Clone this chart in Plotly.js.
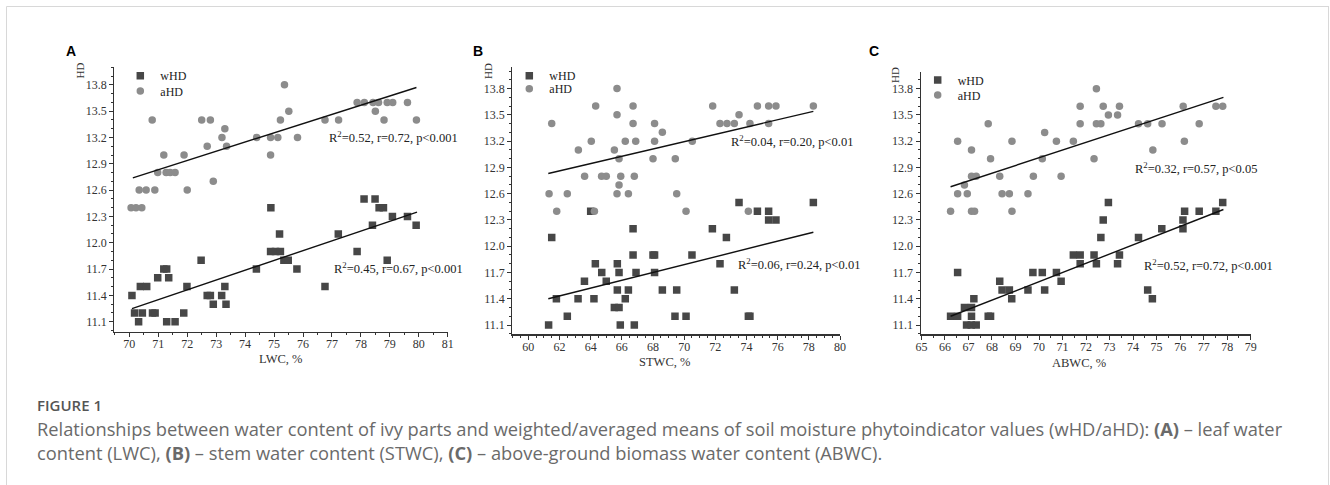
<!DOCTYPE html>
<html>
<head>
<meta charset="utf-8">
<script src="https://cdn.plot.ly/plotly-3.0.1.min.js"></script>
<style>
html,body{margin:0;padding:0;background:#fff;}
#chart{width:1330px;height:485px;}
</style>
</head>
<body>
<div id="chart"></div>
<script>
// ---------- DATA ----------
// Panel A: LWC, %
const lwc_aHD_x = [70.06,70.23,70.43,70.34,70.58,70.88,70.79,70.98,71.19,71.27,71.41,71.58,71.89,72.0,72.5,72.69,72.8,72.9,73.2,73.3,73.36,74.4,74.88,74.88,75.13,75.22,75.36,75.51,75.81,76.76,77.23,77.87,78.12,78.42,78.5,78.61,78.8,78.91,79.1,79.61,79.92];
const lwc_aHD_y = [12.4,12.4,12.4,12.6,12.6,12.6,13.4,12.8,13.0,12.8,12.8,12.8,13.0,12.6,13.4,13.1,13.4,12.7,13.2,13.3,13.1,13.2,13.2,13.0,13.2,13.4,13.8,13.5,13.2,13.4,13.4,13.6,13.6,13.6,13.5,13.6,13.4,13.6,13.6,13.6,13.4];
const lwc_wHD_x = [70.09,70.18,70.32,70.45,70.38,70.6,70.8,70.89,70.98,71.19,71.29,71.36,71.29,71.58,71.88,71.99,72.48,72.69,72.8,72.9,73.19,73.3,73.34,74.39,74.89,74.88,75.05,75.22,75.19,75.34,75.49,75.79,76.76,77.22,77.87,78.11,78.4,78.49,78.63,78.78,78.91,79.09,79.61,79.91];
const lwc_wHD_y = [11.4,11.2,11.1,11.2,11.5,11.5,11.2,11.2,11.6,11.7,11.7,11.6,11.1,11.1,11.2,11.5,11.8,11.4,11.4,11.3,11.4,11.5,11.3,11.7,12.4,11.9,11.9,11.9,12.1,11.8,11.8,11.7,11.5,12.1,11.9,12.5,12.2,12.5,12.4,12.4,11.8,12.3,12.3,12.2];
const lwc_aTrend_x = [70.12,79.92], lwc_aTrend_y = [12.74,13.77];
const lwc_wTrend_x = [70.09,79.94], lwc_wTrend_y = [11.25,12.35];

// Panel B: STWC, %
const stwc_aHD_x = [61.33,61.5,61.82,62.5,63.21,63.61,64.04,64.24,64.32,64.7,65.0,65.52,65.69,65.69,65.82,65.93,65.82,65.69,66.42,66.22,66.72,66.72,66.89,66.8,68.1,68.6,68.1,68.0,69.43,69.52,70.12,70.52,71.83,72.3,72.75,73.22,73.52,74.22,74.12,74.7,75.42,75.89,75.42,78.29];
const stwc_aHD_y = [12.6,13.4,12.4,12.6,13.1,12.8,13.2,12.4,13.6,12.8,12.8,13.1,13.8,13.5,13.0,12.8,12.7,12.6,12.6,13.2,13.6,13.4,13.2,12.8,13.4,13.3,13.2,13.0,13.0,12.6,12.4,13.2,13.6,13.4,13.4,13.4,13.5,13.4,12.4,13.6,13.6,13.6,13.4,13.6];
const stwc_wHD_x = [61.3,61.5,61.8,62.5,63.19,63.6,64.0,64.21,64.3,64.71,65.0,65.52,65.82,65.71,65.71,65.82,65.9,66.22,66.42,66.72,66.72,66.91,66.8,68.0,68.1,68.1,68.6,69.41,69.52,70.12,70.5,71.81,72.3,72.71,73.22,73.52,74.12,74.22,74.7,75.42,75.42,75.89,78.29];
const stwc_wHD_y = [11.1,12.1,11.4,11.2,11.4,11.6,12.4,11.4,11.8,11.7,11.6,11.3,11.3,11.8,11.5,11.7,11.1,11.4,11.5,11.9,12.2,11.7,11.1,11.9,11.9,11.7,11.5,11.2,11.5,11.2,11.9,12.2,11.8,12.1,11.5,12.5,11.2,11.2,12.4,12.4,12.3,12.3,12.5];
const stwc_aTrend_x = [61.28,78.29], stwc_aTrend_y = [12.83,13.54];
const stwc_wTrend_x = [61.28,78.29], stwc_wTrend_y = [11.40,12.16];

// Panel C: ABWC, %
const abwc_aHD_x = [66.24,66.54,66.54,66.83,66.95,67.13,67.13,67.33,67.13,67.26,67.84,67.94,68.33,68.43,68.74,68.85,68.85,69.53,69.76,70.14,70.24,70.74,70.94,71.46,71.75,71.75,72.34,72.44,72.44,72.63,72.73,72.95,73.34,73.42,74.23,74.62,74.84,75.23,76.13,76.18,76.81,77.52,77.81];
const abwc_aHD_y = [12.4,13.2,12.6,12.7,12.6,13.1,12.8,12.8,12.4,12.4,13.4,13.0,12.8,12.6,12.6,13.2,12.4,12.6,12.8,13.0,13.3,13.2,12.8,13.2,13.6,13.4,13.0,13.8,13.4,13.4,13.6,13.5,13.5,13.6,13.4,13.4,13.1,13.4,13.6,13.2,13.4,13.6,13.6];
const abwc_wHD_x = [66.24,66.54,66.54,66.83,66.92,67.12,67.33,67.13,67.13,67.23,67.84,67.94,68.33,68.43,68.74,68.84,69.53,69.74,70.14,70.24,70.74,70.94,71.46,71.75,71.75,72.34,72.44,72.63,72.73,72.95,73.34,73.42,74.23,74.62,74.82,75.22,76.12,76.12,76.19,76.81,77.52,77.81];
const abwc_wHD_y = [11.2,11.7,11.2,11.3,11.1,11.1,11.1,11.3,11.2,11.4,11.2,11.2,11.6,11.5,11.5,11.4,11.5,11.7,11.7,11.5,11.7,11.6,11.9,11.9,11.8,11.9,11.8,12.1,12.3,12.5,11.8,11.9,12.1,11.5,11.4,12.2,12.3,12.2,12.4,12.4,12.4,12.5];
const abwc_aTrend_x = [66.24,77.84], abwc_aTrend_y = [12.68,13.70];
const abwc_wTrend_x = [66.24,77.84], abwc_wTrend_y = [11.20,12.42];

const seriesNames = ["wHD","aHD"];
const axisTitles = ["LWC, %","STWC, %","ABWC, %"];
const panelLetters = ["A","B","C"];
const statsText = [
  ["R<sup>2</sup>=0.52, r=0.72, p&lt;0.001","R<sup>2</sup>=0.45, r=0.67, p&lt;0.001"],
  ["R<sup>2</sup>=0.04, r=0.20, p&lt;0.01","R<sup>2</sup>=0.06, r=0.24, p&lt;0.01"],
  ["R<sup>2</sup>=0.32, r=0.57, p&lt;0.05","R<sup>2</sup>=0.52, r=0.72, p&lt;0.001"]
];
const captionTitle = "FIGURE 1";
const captionLine1 = "Relationships between water content of ivy parts and weighted/averaged means of soil moisture phytoindicator values (wHD/aHD): <b>(A)</b> – leaf water";
const captionLine2 = "content (LWC), <b>(B)</b> – stem water content (STWC), <b>(C)</b> – above-ground biomass water content (ABWC).";

// ---------- LAYOUT HELPERS ----------
const W = 1330, H = 485;
const px = x => x / W;
const py = y => 1 - y / H;
const SERIF = "Liberation Serif, Times New Roman, serif";
const wColor = "#474747", aColor = "#8c8c8c";

const panels = [
  {wx: lwc_wHD_x, wy: lwc_wHD_y, ax: lwc_aHD_x, ay: lwc_aHD_y,
   wtx: lwc_wTrend_x, wty: lwc_wTrend_y, atx: lwc_aTrend_x, aty: lwc_aTrend_y,
   dom: [114.3, 447.7], ydom: [331.7, 67.3], xr: [69.48, 81.0], yr: [10.986, 14.0], dt: 1,
   legW: [140.3, 75.7], legA: [140.3, 91],
   st: [[326.7, 137.3], [331.7, 268.3]], xt: [280.8, 359], hd: [79, 70.5], letter: [70.5, 51.3]},
  {wx: stwc_wHD_x, wy: stwc_wHD_y, ax: stwc_aHD_x, ay: stwc_aHD_y,
   wtx: stwc_wTrend_x, wty: stwc_wTrend_y, atx: stwc_aTrend_x, aty: stwc_aTrend_y,
   dom: [512.3, 840], ydom: [334.3, 66.7], xr: [58.97, 80], yr: [10.994, 14.05], dt: 2,
   legW: [529.3, 75.7], legA: [529.3, 88.7],
   st: [[729.3, 141], [736, 263.7]], xt: [664.3, 362], hd: [488, 71], letter: [478, 51]},
  {wx: abwc_wHD_x, wy: abwc_wHD_y, ax: abwc_aHD_x, ay: abwc_aHD_y,
   wtx: abwc_wTrend_x, wty: abwc_wTrend_y, atx: abwc_aTrend_x, aty: abwc_aTrend_y,
   dom: [920.7, 1250.7], ydom: [334.3, 71.7], xr: [64.97, 79], yr: [10.994, 13.994], dt: 1,
   legW: [937.7, 80], legA: [937.7, 95],
   st: [[1133.3, 168.3], [1141.7, 265]], xt: [1078.7, 363], hd: [895, 75], letter: [874, 51.5]}
];

const traces = [];
const layout = {
  width: W, height: H,
  margin: {l: 0, r: 0, t: 0, b: 0},
  paper_bgcolor: "#ffffff", plot_bgcolor: "rgba(0,0,0,0)",
  showlegend: true,
  annotations: [], shapes: []
};

const axisCommon = {
  showline: true, linecolor: "#333", linewidth: 1.2,
  ticks: "outside", ticklen: 4, tickwidth: 1, tickcolor: "#333",
  showgrid: false, zeroline: false, mirror: false,
  tickfont: {family: SERIF, size: 12, color: "#333"}
};

panels.forEach((p, i) => {
  const n = i === 0 ? "" : String(i + 1);
  const xa = "x" + n, ya = "y" + n;
  const lw = "legend" + (i === 0 ? "" : String(2 * i + 1));
  const la = "legend" + String(2 * i + 2);
  traces.push({type: "scatter", mode: "markers", x: p.wx, y: p.wy, xaxis: xa, yaxis: ya,
    name: seriesNames[0], legend: lw,
    marker: {symbol: "square", size: 7.5, color: wColor}});
  traces.push({type: "scatter", mode: "markers", x: p.ax, y: p.ay, xaxis: xa, yaxis: ya,
    name: seriesNames[1], legend: la,
    marker: {symbol: "circle", size: 7.5, color: aColor}});
  traces.push({type: "scatter", mode: "lines", x: p.atx, y: p.aty, xaxis: xa, yaxis: ya,
    showlegend: false, line: {color: "#111", width: 1.4}});
  traces.push({type: "scatter", mode: "lines", x: p.wtx, y: p.wty, xaxis: xa, yaxis: ya,
    showlegend: false, line: {color: "#111", width: 1.4}});

  layout["xaxis" + n] = Object.assign({}, axisCommon, {
    domain: [px(p.dom[0]), px(p.dom[1])], range: p.xr, anchor: ya,
    tick0: 0, dtick: p.dt, ticklabelstandoff: -3,
    minor: {dtick: 0.5, ticks: "outside", ticklen: 2, tickcolor: "#333", showgrid: false}
  });
  layout["yaxis" + n] = Object.assign({}, axisCommon, {
    domain: [py(p.ydom[0]), py(p.ydom[1])], range: p.yr, anchor: xa,
    tick0: 11.1, dtick: 0.3, tickformat: ".1f",
    minor: {tick0: 11.1, dtick: 0.1, ticks: "outside", ticklen: 2, tickcolor: "#333", showgrid: false}
  });

  const legBase = {xanchor: "left", yanchor: "middle", bgcolor: "rgba(0,0,0,0)", borderwidth: 0,
    font: {family: SERIF, size: 12, color: "#222"}, itemwidth: 30};
  layout[lw] = Object.assign({}, legBase, {x: px(p.legW[0] - 20), y: py(p.legW[1])});
  layout[la] = Object.assign({}, legBase, {x: px(p.legA[0] - 20), y: py(p.legA[1])});

  p.st.forEach((s, k) => {
    layout.annotations.push({xref: "paper", yref: "paper", x: px(s[0]), y: py(s[1]),
      xanchor: "left", yanchor: "middle", showarrow: false, text: statsText[i][k],
      font: {family: SERIF, size: 12.5, color: "#222"}});
  });
  layout.annotations.push({xref: "paper", yref: "paper", x: px(p.xt[0]), y: py(p.xt[1]),
    xanchor: "center", yanchor: "middle", showarrow: false, text: axisTitles[i],
    font: {family: SERIF, size: 12.5, color: "#333"}});
  layout.annotations.push({xref: "paper", yref: "paper", x: px(p.hd[0]), y: py(p.hd[1]),
    xanchor: "center", yanchor: "middle", showarrow: false, text: "HD", textangle: -90,
    font: {family: SERIF, size: 11, color: "#333"}});
  layout.annotations.push({xref: "paper", yref: "paper", x: px(p.letter[0]), y: py(p.letter[1]),
    xanchor: "center", yanchor: "middle", showarrow: false, text: "<b>" + panelLetters[i] + "</b>",
    font: {family: "Liberation Sans, Arial, sans-serif", size: 14, color: "#000"}});
});

// Caption
layout.annotations.push({xref: "paper", yref: "paper", x: px(35), y: py(405), xanchor: "left", yanchor: "middle",
  showarrow: false, text: captionTitle, font: {family: "Open Sans, sans-serif", size: 15, color: "#555", weight: 600}});
layout.annotations.push({xref: "paper", yref: "paper", x: px(35), y: py(428), xanchor: "left", yanchor: "middle",
  showarrow: false, text: captionLine1, font: {family: "Open Sans, sans-serif", size: 18.3, color: "#6a6a6a"}});
layout.annotations.push({xref: "paper", yref: "paper", x: px(35), y: py(452), xanchor: "left", yanchor: "middle",
  showarrow: false, text: captionLine2, font: {family: "Open Sans, sans-serif", size: 18.3, color: "#6a6a6a"}});

// Figure frame
const frame = {type: "line", xref: "paper", yref: "paper", line: {color: "#d8d8d8", width: 1}};
layout.shapes.push(Object.assign({}, frame, {x0: px(6.5), x1: px(1329), y0: py(6.5), y1: py(6.5)}));
layout.shapes.push(Object.assign({}, frame, {x0: px(6.5), x1: px(6.5), y0: py(6.5), y1: py(490)}));
layout.shapes.push(Object.assign({}, frame, {x0: px(1328.5), x1: px(1328.5), y0: py(6.5), y1: py(490)}));

Plotly.newPlot("chart", traces, layout, {displayModeBar: false, staticPlot: true});
</script>
</body>
</html>
